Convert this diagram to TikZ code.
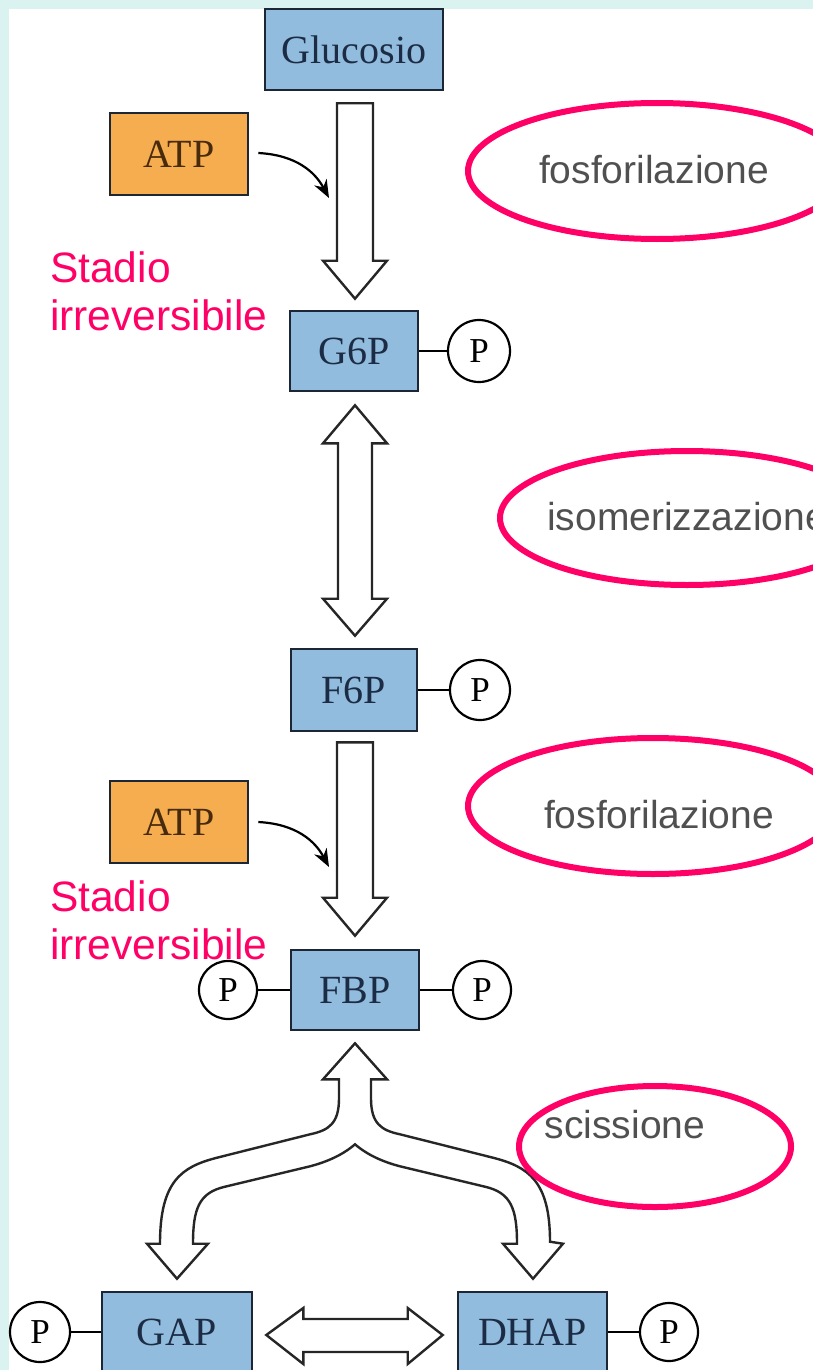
\documentclass[tikz,border=0pt]{standalone}
\usepackage{fontspec}
\setmainfont{Liberation Serif}
\newfontfamily\arialf{Liberation Sans}
\usetikzlibrary{calc,arrows.meta}
\definecolor{bgcyan}{RGB}{219,243,240}
\definecolor{boxblue}{RGB}{146,188,222}
\definecolor{boxline}{RGB}{28,38,52}
\definecolor{navy}{RGB}{28,44,68}
\definecolor{atporange}{RGB}{246,173,80}
\definecolor{atptext}{RGB}{72,42,12}
\definecolor{magentaA}{RGB}{255,0,102}
\definecolor{graytext}{RGB}{80,80,80}
\begin{document}
\begin{tikzpicture}[x=1pt,y=-1pt,
 box/.style={draw=boxline, fill=boxblue, line width=2.6pt, minimum width=128pt, minimum height=80pt, inner sep=0pt, text=navy, font=\fontsize{40}{44}\selectfont},
 atpbox/.style={box, fill=atporange, text=atptext, minimum width=138pt, minimum height=82pt},
 pcircle/.style={circle, draw=black, fill=white, line width=2.2pt, minimum size=60pt, inner sep=0pt, font=\fontsize{35}{38}\selectfont},
 blockarrow/.style={draw=black!85, fill=white, line width=2.4pt, line join=miter},
 curvearrow/.style={line width=2.2pt, -{Stealth[length=18pt,width=14pt]}},
 ring/.style={draw=magentaA, line width=6pt},
 stage/.style={text=magentaA, font=\arialf\fontsize{42.5}{48}\selectfont, inner sep=0pt},
 proc/.style={text=graytext, font=\arialf\fontsize{39}{44}\selectfont, inner sep=0pt},
 plink/.style={line width=2.4pt}
]
\useasboundingbox (0,0) rectangle (813,1370);
\fill[bgcyan] (0,0) rectangle (813,1370);
\fill[white] (9,9) rectangle (813,1370);
\clip (0,0) rectangle (813,1370);

% ---- nodes ----
\node[box, minimum width=178pt, minimum height=81pt] (gluc) at (354,49.5) {Glucosio};
\node[atpbox] (atp1) at (179,154) {ATP};
\node[box] (g6p) at (354,351) {G6P};
\node[pcircle, minimum size=62pt] (p1) at (479,351) {P};
\node[box, minimum width=126pt, minimum height=82pt] (f6p) at (354,690) {F6P};
\node[pcircle] (p2) at (480,690) {P};
\node[atpbox] (atp2) at (179,822) {ATP};
\node[box] (fbp) at (355,990) {FBP};
\node[pcircle, minimum size=58pt] (pl) at (228,990) {P};
\node[pcircle, minimum size=58pt] (pr) at (482,990) {P};
\node[box, minimum width=150pt] (gap) at (177,1332) {GAP};
\node[box, minimum width=149pt] (dhap) at (532.5,1332) {DHAP};
\node[pcircle] (pgap) at (40,1332) {P};
\node[pcircle, minimum size=58pt] (pdhap) at (669,1332) {P};

% ---- phosphate links ----
\draw[plink] (g6p.east) -- (p1.west);
\draw[plink] (f6p.east) -- (p2.west);
\draw[plink] (fbp.east) -- (pr.west);
\draw[plink] (fbp.west) -- (pl.east);
\draw[plink] (gap.west) -- (pgap.east);
\draw[plink] (dhap.east) -- (pdhap.west);

% ---- block arrow 1: Glucosio -> G6P ----
\coordinate (a1s) at ($(gluc.south)+(1,12)$);
\coordinate (a1e) at ($(g6p.north)+(1,-11)$);
\draw[blockarrow] ($(a1s)+(-18,0)$) -- ($(a1s)+(18,0)$) -- ($(a1e)+(18,-38)$) -- ($(a1e)+(32,-38)$) -- (a1e) -- ($(a1e)+(-32,-38)$) -- ($(a1e)+(-18,-38)$) -- cycle;

% ---- block arrow 2: G6P <-> F6P ----
\coordinate (a2s) at ($(g6p.south)+(1,13)$);
\coordinate (a2e) at ($(f6p.north)+(1,-12)$);
\draw[blockarrow] (a2s) -- ($(a2s)+(32,38)$) -- ($(a2s)+(17,38)$) -- ($(a2e)+(17,-37)$) -- ($(a2e)+(32,-37)$) -- (a2e) -- ($(a2e)+(-32,-37)$) -- ($(a2e)+(-17,-37)$) -- ($(a2s)+(-17,38)$) -- ($(a2s)+(-32,38)$) -- cycle;

% ---- block arrow 3: F6P -> FBP ----
\coordinate (a3s) at ($(f6p.south)+(1,10)$);
\coordinate (a3e) at ($(fbp.north)+(0,-13)$);
\draw[blockarrow] ($(a3s)+(-18,0)$) -- ($(a3s)+(18,0)$) -- ($(a3e)+(18,-38)$) -- ($(a3e)+(32,-38)$) -- (a3e) -- ($(a3e)+(-32,-38)$) -- ($(a3e)+(-18,-38)$) -- cycle;

% ---- fork arrow: FBP <-> GAP / DHAP ----
\coordinate (ft) at ($(fbp.south)+(0,12)$);
\coordinate (fl) at ($(gap.north)+(0,-12)$);
\coordinate (fr) at ($(dhap.north)+(0.5,-12)$);
\draw[blockarrow] (ft) -- ($(ft)+(32,36)$) -- ($(ft)+(16,36)$) -- ($(ft)+(16,55)$)
  .. controls ($(ft)+(16,80)$) and ($(ft)+(26,87)$) .. ($(ft)+(45,91)$)
  -- ($(fr)+(-40,-121)$)
  .. controls ($(fr)+(-5,-112)$) and ($(fr)+(17,-98)$) .. ($(fr)+(17,-37)$)
  -- ($(fr)+(30,-35)$) -- (fr) -- ($(fr)+(-30,-35)$) -- ($(fr)+(-16,-35)$)
  .. controls ($(fr)+(-16,-70)$) and ($(fr)+(-22,-86)$) .. ($(fr)+(-48,-92)$)
  -- ($(ft)+(45,123)$)
  .. controls ($(ft)+(22,117)$) and ($(ft)+(8,108)$) .. ($(ft)+(0,101)$)
  .. controls ($(ft)+(-8,108)$) and ($(ft)+(-22,117)$) .. ($(ft)+(-45,123)$)
  -- ($(fl)+(48,-92)$)
  .. controls ($(fl)+(22,-86)$) and ($(fl)+(16,-70)$) .. ($(fl)+(16,-35)$)
  -- ($(fl)+(31,-35)$) -- (fl) -- ($(fl)+(-30,-35)$) -- ($(fl)+(-17,-35)$)
  .. controls ($(fl)+(-17,-98)$) and ($(fl)+(5,-112)$) .. ($(fl)+(40,-121)$)
  -- ($(ft)+(-45,91)$)
  .. controls ($(ft)+(-26,87)$) and ($(ft)+(-16,80)$) .. ($(ft)+(-16,55)$)
  -- ($(ft)+(-16,36)$) -- ($(ft)+(-32,36)$) -- cycle;

% ---- horizontal arrow: GAP <-> DHAP ----
\coordinate (hl) at ($(gap.east)+(13,3)$);
\coordinate (hr) at ($(dhap.west)+(-14,3)$);
\draw[blockarrow] (hl) -- ($(hl)+(37,-27)$) -- ($(hl)+(37,-16)$) -- ($(hr)+(-35,-16)$) -- ($(hr)+(-35,-27)$) -- (hr) -- ($(hr)+(-35,29)$) -- ($(hr)+(-35,17)$) -- ($(hl)+(37,17)$) -- ($(hl)+(37,29)$) -- cycle;

% ---- ATP curved arrows ----
\coordinate (c1) at (329,198);
\coordinate (c2) at (329,867);
\draw[curvearrow] ($(atp1.east)+(9,-1)$) .. controls +(38,2) and +(-14,-26) .. (c1);
\draw[curvearrow] ($(atp2.east)+(9,0)$) .. controls +(38,2) and +(-14,-26) .. (c2);

% ---- process ellipses and labels ----
\draw[ring] (657,171) ellipse [x radius=189, y radius=68];
\draw[ring] (687,518) ellipse [x radius=187, y radius=67];
\draw[ring] (653,806) ellipse [x radius=185, y radius=68];
\draw[ring] (655,1146.5) ellipse [x radius=136, y radius=60.5];
\node[proc, anchor=base] (l1) at (654,183) {fosforilazione};
\node[proc, anchor=base west] (l2) at (547,530) {isomerizzazione};
\node[proc, anchor=base] (l3) at (659,828) {fosforilazione};
\node[proc, anchor=base] (l4) at (625,1138) {scissione};

% ---- stage labels ----
\node[stage, anchor=base west] (s1a) at (50,282) {Stadio};
\node[stage, anchor=base west] (s1b) at (50,330) {irreversibile};
\node[stage, anchor=base west] (s2a) at (50,911) {Stadio};
\node[stage, anchor=base west] (s2b) at (50,959) {irreversibile};
\end{tikzpicture}
\end{document}
